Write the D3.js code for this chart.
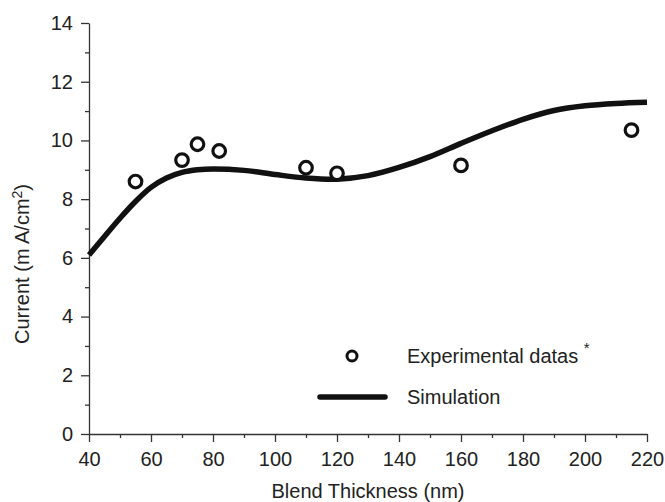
<!DOCTYPE html>
<html>
<head>
<meta charset="utf-8">
<script src="https://cdn.jsdelivr.net/npm/d3@7"></script>
<style>
  body { margin: 0; background: #fff; }
  svg text { font-family: "Liberation Sans", Arial, sans-serif; fill: #222; }
  .axis path, .axis line { stroke: #333; stroke-width: 1.3; }
  .axis text { font-size: 20px; }
</style>
</head>
<body>
<div id="chart"></div>
<script>
// experimental points
let expThickness = [55, 70, 75, 82, 110, 120, 160, 215];
let expCurrent = [8.6, 9.33, 9.87, 9.64, 9.07, 8.88, 9.15, 10.35];

// simulation curve
let simThickness = [40, 45, 50, 55, 60, 65, 70, 75, 80, 90, 100, 110, 120, 130, 140, 150, 160, 170, 180, 190, 200, 210, 220];
let simCurrent = [6.1, 6.73, 7.35, 7.92, 8.4, 8.72, 8.91, 9.0, 9.03, 8.98, 8.84, 8.72, 8.68, 8.8, 9.08, 9.45, 9.9, 10.33, 10.72, 11.02, 11.18, 11.26, 11.3];

let xTicks = [40, 60, 80, 100, 120, 140, 160, 180, 200, 220];
let yTicks = [0, 2, 4, 6, 8, 10, 12, 14];

let width = 665;
let height = 502;

let svg = d3.select("#chart")
    .append("svg")
    .attr("width", width)
    .attr("height", height);

let xScale = d3.scaleLinear()
    .domain([40, 220])
    .range([89, 647]);

let yScale = d3.scaleLinear()
    .domain([0, 14])
    .range([434, 23]);

// minor ticks
svg.append("g")
    .attr("class", "axis")
    .attr("transform", "translate(0,434)")
    .call(d3.axisBottom(xScale).tickValues(d3.range(50, 220, 20)).tickSize(4).tickFormat(""))
    .select(".domain").remove();

svg.append("g")
    .attr("class", "axis")
    .attr("transform", "translate(89,0)")
    .call(d3.axisLeft(yScale).tickValues(d3.range(1, 14, 2)).tickSize(4).tickFormat(""))
    .select(".domain").remove();

// x-axis
svg.append("g")
    .attr("class", "axis")
    .attr("transform", "translate(0,434)")
    .call(d3.axisBottom(xScale).tickValues(xTicks).tickSize(8).tickSizeOuter(0).tickPadding(10));

// y-axis
svg.append("g")
    .attr("class", "axis")
    .attr("transform", "translate(89,0)")
    .call(d3.axisLeft(yScale).tickValues(yTicks).tickSize(8).tickSizeOuter(0).tickPadding(8));

// axis titles
svg.append("text")
    .attr("x", (xScale(40) + xScale(220)) / 2)
    .attr("y", 498)
    .attr("text-anchor", "middle")
    .style("font-size", "20px")
    .text("Blend Thickness (nm)");

let yLabel = svg.append("text")
    .attr("text-anchor", "middle")
    .attr("transform", "translate(29,264) rotate(-90)")
    .style("font-size", "20px");
yLabel.append("tspan").text("Current (m A/cm");
yLabel.append("tspan").attr("dy", -7).style("font-size", "14px").text("2");
yLabel.append("tspan").attr("dy", 7).text(")");

// simulation line
let line = d3.line()
    .x((d, i) => xScale(simThickness[i]))
    .y((d) => yScale(d))
    .curve(d3.curveCatmullRom.alpha(0.5));

svg.append("path")
    .attr("d", line(simCurrent))
    .attr("fill", "none")
    .attr("stroke", "#111")
    .attr("stroke-width", 5.5);

// experimental circles
svg.selectAll("circle.exp")
    .data(expCurrent)
    .enter()
    .append("circle")
    .attr("class", "exp")
    .attr("cx", (d, i) => xScale(expThickness[i]))
    .attr("cy", (d) => yScale(d))
    .attr("r", 6.3)
    .attr("fill", "#fff")
    .attr("stroke", "#111")
    .attr("stroke-width", 3.2);

// legend
svg.append("circle")
    .attr("cx", 352)
    .attr("cy", 356)
    .attr("r", 5)
    .attr("fill", "#fff")
    .attr("stroke", "#111")
    .attr("stroke-width", 3);

let expLegend = svg.append("text")
    .attr("x", 407)
    .attr("y", 363)
    .style("font-size", "20px");
expLegend.append("tspan").text("Experimental datas ");
expLegend.append("tspan").attr("dy", -10).style("font-size", "15px").text("*");

svg.append("line")
    .attr("x1", 320)
    .attr("x2", 385)
    .attr("y1", 397)
    .attr("y2", 397)
    .attr("stroke", "#111")
    .attr("stroke-width", 5.5)
    .attr("stroke-linecap", "round");

svg.append("text")
    .attr("x", 407)
    .attr("y", 404)
    .style("font-size", "20px")
    .text("Simulation");
</script>
</body>
</html>
